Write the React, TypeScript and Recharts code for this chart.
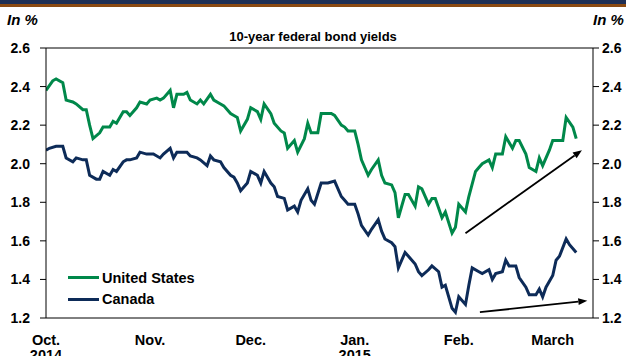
import React from "react";
import {
  LineChart, Line, XAxis, YAxis, ReferenceLine, Legend,
} from "recharts";

// day offsets from Oct. 1, 2014
const usDays = [0, 2, 3, 5, 6, 8, 9, 11, 12, 13, 14, 16, 17, 19, 20, 21, 23, 24, 25, 27, 28, 30, 31, 33, 34, 35, 37, 38, 39, 41, 42, 43, 45, 46, 47, 49, 50, 52, 53, 55, 56, 57, 58, 60, 61, 63, 64, 65, 67, 68, 70, 71, 72, 74, 75, 77, 78, 79, 81, 82, 85, 86, 88, 89, 90, 92, 93, 94, 96, 97, 99, 100, 101, 103, 104, 105, 107, 108, 110, 111, 112, 114, 115, 116, 118, 119, 121, 122, 123, 125, 126, 128, 129, 130, 132, 133, 134, 136, 137, 139, 140, 141, 143, 144, 146, 147, 148, 150, 151, 152, 154, 155, 157, 158];
const usYield = [2.38, 2.43, 2.44, 2.42, 2.33, 2.32, 2.31, 2.28, 2.28, 2.2, 2.13, 2.16, 2.19, 2.19, 2.22, 2.21, 2.27, 2.27, 2.25, 2.29, 2.32, 2.31, 2.33, 2.34, 2.33, 2.34, 2.38, 2.29, 2.36, 2.36, 2.37, 2.33, 2.31, 2.33, 2.31, 2.36, 2.33, 2.31, 2.3, 2.26, 2.25, 2.24, 2.17, 2.23, 2.29, 2.27, 2.23, 2.31, 2.26, 2.21, 2.17, 2.16, 2.08, 2.12, 2.06, 2.13, 2.21, 2.16, 2.16, 2.26, 2.26, 2.25, 2.2, 2.19, 2.17, 2.17, 2.1, 2.02, 1.94, 1.97, 2.02, 1.94, 1.9, 1.89, 1.85, 1.72, 1.84, 1.84, 1.78, 1.88, 1.87, 1.79, 1.82, 1.82, 1.72, 1.75, 1.64, 1.67, 1.79, 1.75, 1.83, 1.96, 1.98, 2.0, 2.02, 1.98, 2.05, 2.05, 2.14, 2.08, 2.12, 2.12, 2.05, 1.98, 1.96, 2.03, 1.99, 2.07, 2.12, 2.12, 2.12, 2.24, 2.19, 2.13];

const caDays = [0, 1, 3, 5, 6, 8, 9, 11, 12, 13, 15, 16, 17, 19, 20, 21, 23, 24, 25, 27, 28, 30, 31, 32, 34, 35, 37, 38, 39, 41, 42, 43, 45, 46, 48, 49, 50, 52, 53, 55, 56, 57, 58, 60, 61, 63, 64, 65, 67, 68, 69, 71, 72, 74, 75, 76, 78, 79, 80, 82, 84, 86, 88, 89, 90, 92, 93, 94, 96, 97, 99, 100, 101, 103, 104, 105, 107, 108, 110, 111, 112, 114, 115, 117, 118, 119, 121, 122, 123, 125, 126, 127, 129, 130, 132, 133, 134, 136, 137, 138, 140, 141, 143, 144, 146, 147, 148, 149, 151, 152, 153, 155, 156, 158];
const caYield = [2.07, 2.08, 2.09, 2.09, 2.03, 2.01, 2.03, 2.02, 2.02, 1.94, 1.92, 1.92, 1.96, 1.94, 1.97, 1.96, 2.01, 2.02, 2.02, 2.03, 2.06, 2.05, 2.05, 2.05, 2.03, 2.05, 2.08, 2.03, 2.06, 2.06, 2.06, 2.04, 2.03, 2.02, 1.99, 2.04, 2.02, 2.01, 1.98, 1.94, 1.93, 1.9, 1.86, 1.9, 1.96, 1.94, 1.9, 1.96, 1.9, 1.88, 1.83, 1.82, 1.76, 1.78, 1.75, 1.81, 1.87, 1.81, 1.79, 1.9, 1.9, 1.91, 1.83, 1.81, 1.79, 1.79, 1.74, 1.68, 1.63, 1.66, 1.71, 1.65, 1.61, 1.59, 1.57, 1.46, 1.54, 1.52, 1.48, 1.44, 1.42, 1.45, 1.47, 1.44, 1.36, 1.37, 1.25, 1.23, 1.31, 1.27, 1.37, 1.46, 1.44, 1.43, 1.45, 1.4, 1.43, 1.44, 1.5, 1.47, 1.47, 1.41, 1.36, 1.32, 1.32, 1.35, 1.31, 1.36, 1.42, 1.5, 1.52, 1.61, 1.58, 1.54];

const monthTicks = [0, 31, 61, 92, 123, 151];
const monthLabels = ["Oct.", "Nov.", "Dec.", "Jan.", "Feb.", "March"];
const yearLabels = ["2014", "", "", "2015", "", ""];
const yTicks = [1.2, 1.4, 1.6, 1.8, 2.0, 2.2, 2.4, 2.6];

// trend arrows drawn by the author: [startDay, startYield, endDay, endYield]
const usTrend = [125, 1.64, 159.7, 2.07];
const caTrend = [129.3, 1.23, 161.3, 1.29];

const GREEN = "#00884A";
const NAVY = "#0D2B58";
const FONT = "'Liberation Sans', Arial, sans-serif";

const usData = usDays.map((d, i) => ({ day: d, us: usYield[i] }));
const caData = caDays.map((d, i) => ({ day: d, ca: caYield[i] }));

// eslint-disable-next-line @typescript-eslint/no-explicit-any
function MonthTick(props: any) {
  const { x, y, payload } = props;
  const i = monthTicks.indexOf(payload.value);
  return (
    <text x={x} y={y} textAnchor="middle" fontSize={14.5} fontWeight="bold" fill="#000">
      <tspan x={x} dy={19}>{monthLabels[i]}</tspan>
      {yearLabels[i] && <tspan x={x} dy={15}>{yearLabels[i]}</tspan>}
    </text>
  );
}

// eslint-disable-next-line @typescript-eslint/no-explicit-any
function ArrowShape(props: any) {
  const { x1, y1, x2, y2 } = props;
  const a = Math.atan2(y2 - y1, x2 - x1);
  const len = 9, half = 3.5;
  const bx = x2 - len * Math.cos(a), by = y2 - len * Math.sin(a);
  const px = -Math.sin(a) * half, py = Math.cos(a) * half;
  return (
    <g>
      <line x1={x1} y1={y1} x2={bx} y2={by} stroke="#000" strokeWidth={1.8} />
      <polygon points={`${x2},${y2} ${bx + px},${by + py} ${bx - px},${by - py}`} fill="#000" />
    </g>
  );
}

function LegendBox() {
  const items = [
    { name: "United States", color: GREEN },
    { name: "Canada", color: NAVY },
  ];
  return (
    <div style={{ fontFamily: FONT }}>
      {items.map((it) => (
        <div key={it.name} style={{ display: "flex", alignItems: "center", height: 21.5 }}>
          <span style={{ display: "inline-block", width: 31, height: 3, background: it.color, marginRight: 3 }} />
          <span style={{ fontSize: 14.5, fontWeight: "bold", color: "#000" }}>{it.name}</span>
        </div>
      ))}
    </div>
  );
}

export default function App() {
  const tickStyle = { fontSize: 14, fontWeight: "bold", fill: "#000" };
  return (
    <div style={{ position: "relative", width: 626, height: 356, background: "#fff", fontFamily: FONT, overflow: "hidden" }}>
      <style>{`body{margin:0}`}</style>
      <div style={{ position: "absolute", left: 0, top: 0, width: 626, height: 4, background: "#1E2F55" }} />
      <div style={{ position: "absolute", left: 0, top: 4, width: 626, height: 3, background: "#8B4A12" }} />
      <div style={{ position: "absolute", left: 7, top: 11, fontSize: 15, fontWeight: "bold", fontStyle: "italic" }}>In %</div>
      <div style={{ position: "absolute", left: 593, top: 11, fontSize: 15, fontWeight: "bold", fontStyle: "italic" }}>In %</div>
      <div style={{ position: "absolute", left: 0, top: 29, width: 626, textAlign: "center", fontSize: 13, fontWeight: "bold" }}>10-year federal bond yields</div>
      <LineChart width={626} height={356} data={usData} margin={{ top: 48, right: 0, bottom: 0, left: 0 }} style={{ position: "absolute", left: 0, top: 0 }}>
        <XAxis
          dataKey="day" type="number" domain={[0, 163]} ticks={monthTicks} interval={0}
          tick={<MonthTick />} tickLine={false} axisLine={{ stroke: "#000" }} height={38}
          allowDataOverflow
        />
        <YAxis
          yAxisId="left" orientation="left" domain={[1.2, 2.6]} ticks={yTicks} width={46}
          tick={tickStyle} tickFormatter={(v: number) => v.toFixed(1)} tickSize={6} tickMargin={10}
          axisLine={{ stroke: "#000" }} tickLine={{ stroke: "#000" }} allowDataOverflow
        />
        <YAxis
          yAxisId="right" orientation="right" domain={[1.2, 2.6]} ticks={yTicks} width={33}
          tick={{ ...tickStyle, textAnchor: "start" }} tickFormatter={(v: number) => v.toFixed(1)} tickSize={6} tickMargin={3}
          axisLine={{ stroke: "#000" }} tickLine={{ stroke: "#000" }} allowDataOverflow
        />
        <ReferenceLine yAxisId="left" y={2.6} stroke="#000" ifOverflow="visible" />
        <Line yAxisId="left" data={usData} dataKey="us" stroke={GREEN} strokeWidth={3} dot={false} isAnimationActive={false} name="United States" />
        <Line yAxisId="left" data={caData} dataKey="ca" stroke={NAVY} strokeWidth={3} dot={false} isAnimationActive={false} name="Canada" />
        <ReferenceLine
          yAxisId="left" ifOverflow="visible"
          segment={[{ x: usTrend[0], y: usTrend[1] }, { x: usTrend[2], y: usTrend[3] }]}
          shape={<ArrowShape />}
        />
        <ReferenceLine
          yAxisId="left" ifOverflow="visible"
          segment={[{ x: caTrend[0], y: caTrend[1] }, { x: caTrend[2], y: caTrend[3] }]}
          shape={<ArrowShape />}
        />
        <Legend
          layout="vertical" align="center" verticalAlign="middle"
          content={() => <LegendBox />}
          wrapperStyle={{ left: 68, top: 267, width: 200, height: 44 }}
        />
      </LineChart>
    </div>
  );
}
